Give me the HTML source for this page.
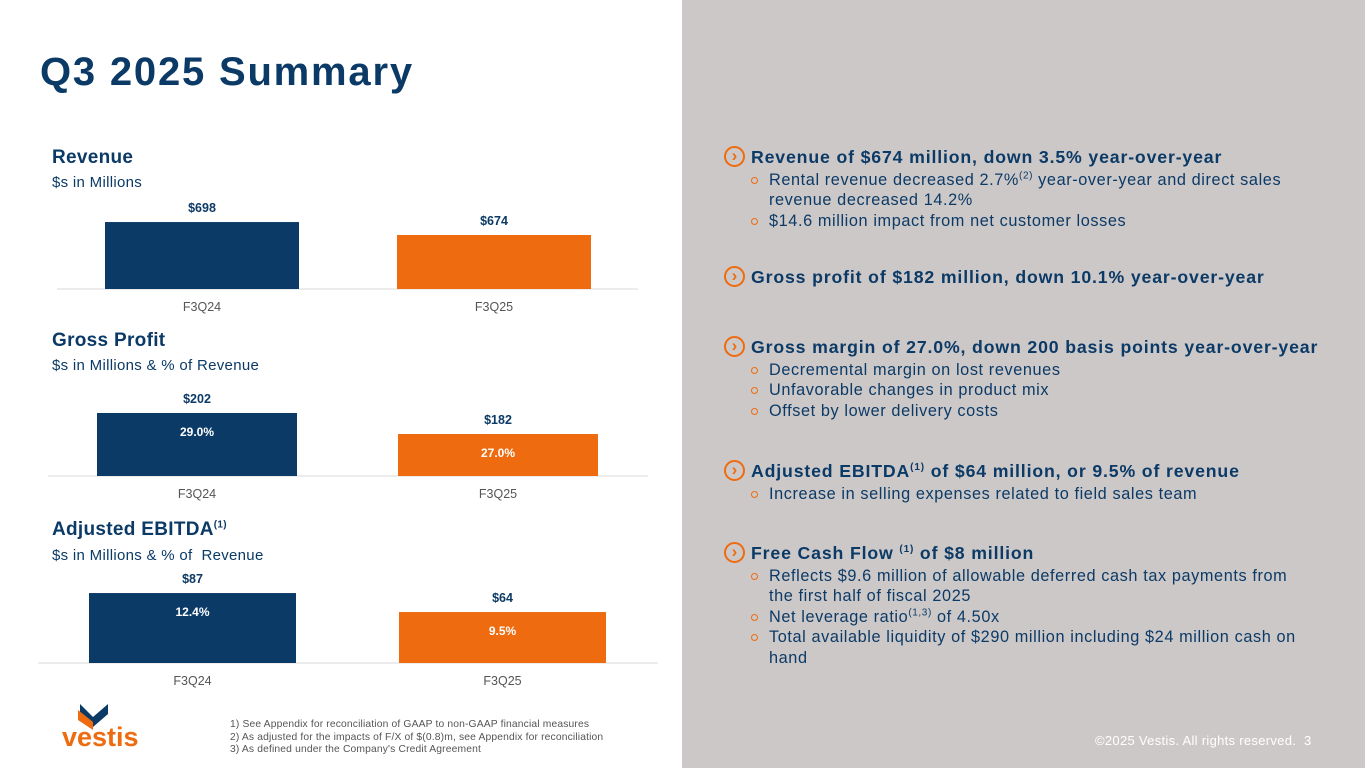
<!DOCTYPE html>
<html><head><meta charset="utf-8"><style>
body{margin:0;width:1365px;height:768px;overflow:hidden;background:#fff;font-family:"Liberation Sans",sans-serif;position:relative}
.abs{position:absolute}
#right{position:absolute;left:682px;top:0;width:683px;height:768px;background:#cdc8c8}
h1{position:absolute;left:40px;top:50px;margin:0;font-size:40px;font-weight:bold;color:#0b3a66;letter-spacing:1.8px}
.ct{position:absolute;font-size:19px;font-weight:bold;color:#0b3a66;letter-spacing:0.3px}
.cs{position:absolute;font-size:15px;color:#0b3a66;letter-spacing:0.3px}
.pt{position:absolute;left:725px;width:625px;color:#0b3a66;font-size:16.3px;line-height:20.5px;letter-spacing:0.6px}
.pt .hd{font-weight:bold;font-size:17.7px;margin-left:26px;margin-bottom:2px;position:relative;letter-spacing:0.85px;white-space:nowrap}
.pt .hd:before{content:"›";position:absolute;left:-27px;top:-1px;width:17px;height:17px;border:2px solid #ee6b0f;border-radius:50%;color:#ee6b0f;font-size:17px;line-height:15px;text-align:center;font-weight:bold;letter-spacing:0}
.pt ul{margin:0;padding:0 0 0 44px;list-style:none}
.pt li{position:relative;white-space:nowrap}
.pt li:before{content:"";position:absolute;left:-18px;top:7px;width:5px;height:5px;border:1.5px solid #ee6b0f;border-radius:50%}
sup{font-size:10px;line-height:0}
svg text{font-family:"Liberation Sans",sans-serif}
</style></head><body>
<div id="right"></div>
<h1>Q3 2025 Summary</h1>

<div class="ct" style="left:52px;top:147px">Revenue</div>
<div class="cs" style="left:52px;top:174px">$s in Millions</div>
<div class="ct" style="left:52px;top:330px">Gross Profit</div>
<div class="cs" style="left:52px;top:357px">$s in Millions &amp; % of Revenue</div>
<div class="ct" style="left:52px;top:519px">Adjusted EBITDA<sup>(1)</sup></div>
<div class="cs" style="left:52px;top:547px">$s in Millions &amp; % of &nbsp;Revenue</div>

<svg class="abs" style="left:0;top:0" width="682" height="768" id="charts"></svg>

<div class="pt" style="top:147px">
<div class="hd">Revenue of $674 million, down 3.5% year-over-year</div>
<ul><li>Rental revenue decreased 2.7%<sup>(2)</sup> year-over-year and direct sales<br>revenue decreased 14.2%</li><li>$14.6 million impact from net customer losses</li></ul></div>
<div class="pt" style="top:267px"><div class="hd">Gross profit of $182 million, down 10.1% year-over-year</div></div>
<div class="pt" style="top:337px">
<div class="hd">Gross margin of 27.0%, down 200 basis points year-over-year</div>
<ul><li>Decremental margin on lost revenues</li><li>Unfavorable changes in product mix</li><li>Offset by lower delivery costs</li></ul></div>
<div class="pt" style="top:461px">
<div class="hd">Adjusted EBITDA<sup>(1)</sup> of $64 million, or 9.5% of revenue</div>
<ul><li>Increase in selling expenses related to field sales team</li></ul></div>
<div class="pt" style="top:543px">
<div class="hd">Free Cash Flow <sup>(1)</sup> of $8 million</div>
<ul><li>Reflects $9.6 million of allowable deferred cash tax payments from<br>the first half of fiscal 2025</li><li>Net leverage ratio<sup>(1,3)</sup> of 4.50x</li><li>Total available liquidity of $290 million including $24 million cash on<br>hand</li></ul></div>

<div class="abs" style="left:230px;top:719px;font-size:10.3px;line-height:12.5px;color:#555;letter-spacing:0.15px">1) See Appendix for reconciliation of GAAP to non-GAAP financial measures<br>2) As adjusted for the impacts of F/X of $(0.8)m, see Appendix for reconciliation<br>3) As defined under the Company's Credit Agreement</div>
<div class="abs" style="left:1095px;top:733px;font-size:13px;color:#fff;letter-spacing:0.3px">©2025 Vestis. All rights reserved.&nbsp; 3</div>

<svg class="abs" style="left:60px;top:700px" width="90" height="50">
<polygon points="20,4 33,17 48,4 48,14 33,27 20,14" fill="#0b3a66"/>
<polygon points="18,10 33,22 33,30 18,20" fill="#ee6b0f"/>
<text x="2" y="46" font-size="27" font-weight="bold" fill="#ee6b0f">vestis</text>
</svg>

<script>
const categories=["F3Q24","F3Q25"];
const revenueValues=[698,674];
const grossProfitValues=[202,182];
const grossMarginPct=["29.0%","27.0%"];
const ebitdaValues=[87,64];
const ebitdaMarginPct=["12.4%","9.5%"];
const svg=document.getElementById('charts');
const NS="http://www.w3.org/2000/svg";
const colors=["#0b3a66","#ee6b0f"];
function el(t,a){const e=document.createElementNS(NS,t);for(const k in a)e.setAttribute(k,a[k]);svg.appendChild(e);return e;}
function chart(name,vals,pcts,cfg){
  const y=v=>cfg.base-(v-cfg.min)*cfg.k;
  const ax=el('line',{x1:cfg.ax0,x2:cfg.ax1,y1:cfg.base,y2:cfg.base,stroke:'#d9d9d9','stroke-width':1});
  
  
  vals.forEach((v,i)=>{
    const x=cfg.x[i],top=y(v);
    const r=el('rect',{x:x,y:top,width:cfg.w,height:cfg.base-top,fill:colors[i]});
    
    
    const t=el('text',{x:x+cfg.w/2,y:top-10,'text-anchor':'middle','font-size':12.5,'font-weight':'bold',fill:'#0b3a66'});
    t.textContent='$'+v;
    
    
    if(pcts){const p=el('text',{x:x+cfg.w/2,y:top+23,'text-anchor':'middle','font-size':12,'font-weight':'bold',fill:'#fff'});
      p.textContent=pcts[i];
      
      }
    const c=el('text',{x:x+cfg.w/2,y:cfg.base+22,'text-anchor':'middle','font-size':12.5,fill:'#555'});
    c.textContent=categories[i];
    
    
  });
}
chart('revenue',revenueValues,null,{base:289,min:574,k:0.54,x:[105,397],w:194,ax0:57,ax1:638});
chart('gross-profit',grossProfitValues,grossMarginPct,{base:476,min:142,k:1.05,x:[97,398],w:200,ax0:48,ax1:648});
chart('ebitda',ebitdaValues,ebitdaMarginPct,{base:663,min:2.3,k:0.826,x:[89,399],w:207,ax0:38,ax1:658});
</script>
</body></html>
